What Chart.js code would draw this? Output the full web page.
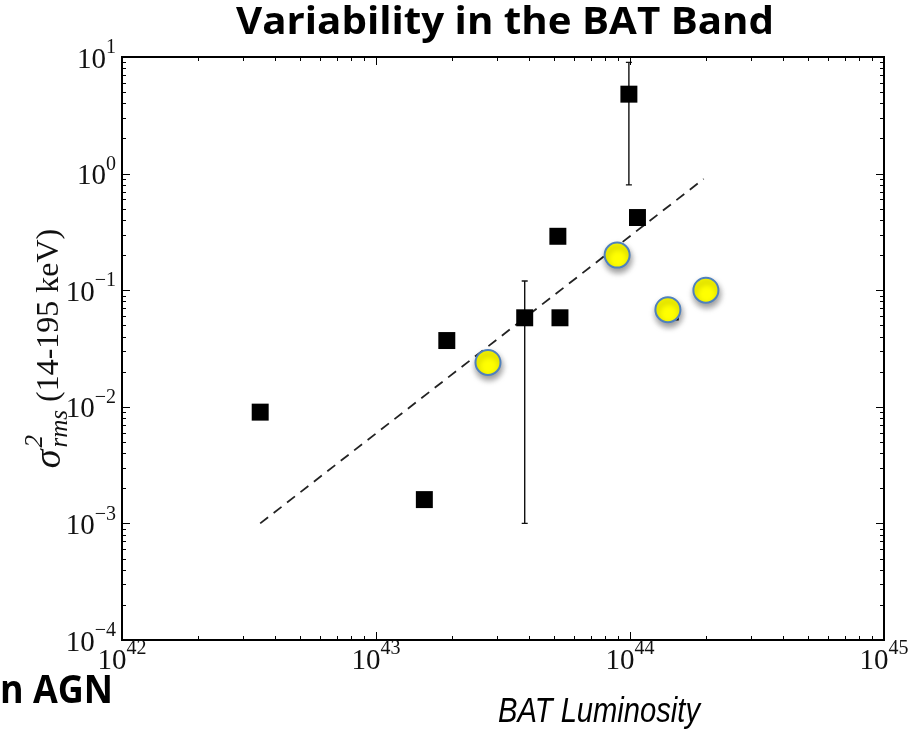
<!DOCTYPE html>
<html>
<head>
<meta charset="utf-8">
<script src="https://cdn.jsdelivr.net/npm/chart.js@4.4.0/dist/chart.umd.min.js"></script>
<style>
  body { margin: 0; background: #fff; }
  #wrap { position: relative; width: 924px; height: 738px; }
</style>
</head>
<body>
<div id="wrap"><canvas id="batChart" width="924" height="738"></canvas></div>
<script>
// BAT luminosity (erg/s) vs. excess variance, 14-195 keV
const squareLum = [3.5e42, 1.55e43, 1.9e43, 3.85e43, 5.2e43, 5.3e43, 9.9e43, 1.07e44, 1.44e44];
const squareVar = [0.009, 0.0016, 0.037, 0.058, 0.29, 0.058, 4.8, 0.42, 0.065];

// only two sources carry error bars
const errLum = [3.85e43, 9.9e43];
const errLow = [0.001, 0.8];
const errHigh = [0.12, 9.0];

const circleLum = [2.76e43, 8.9e43, 1.41e44, 1.99e44];
const circleVar = [0.024, 0.2, 0.068, 0.1];

// dashed trend line
const fitLum = [3.5e42, 1.95e44];
const fitVar = [0.001, 0.9];

const xDecades = [42, 43, 44, 45];
const yDecades = [-4, -3, -2, -1, 0, 1];

const serif = '"Liberation Serif", "DejaVu Serif", serif';

function toPoints(xs, ys) {
    return xs.map((x, i) => ({ x: x, y: ys[i] }));
}

// draws "10" with a raised exponent, anchored by align
function drawPower(ctx, exp, x, y, align) {
    const base = '10';
    const sup = exp < 0 ? '\u2212' + (-exp) : String(exp);
    ctx.font = '29px ' + serif;
    const wb = ctx.measureText(base).width;
    ctx.font = '20px ' + serif;
    const ws = ctx.measureText(sup).width;
    let left = x;
    if (align === 'right') left = x - wb - ws;
    if (align === 'center') left = x - (wb + ws) / 2;
    ctx.textAlign = 'left';
    ctx.textBaseline = 'middle';
    ctx.font = '29px ' + serif;
    ctx.fillText(base, left, y);
    ctx.font = '20px ' + serif;
    ctx.fillText(sup, left + wb, y - 12);
}

// squeeze text horizontally so it spans a given width
function drawFitted(ctx, text, font, cx, y, width, align) {
    ctx.save();
    ctx.font = font;
    const w = ctx.measureText(text).width;
    const s = width / w;
    ctx.translate(cx, y);
    ctx.scale(s, 1);
    ctx.textAlign = align;
    ctx.textBaseline = 'middle';
    ctx.fillText(text, 0, 0);
    ctx.restore();
}

const errorBars = {
    id: 'errorBars',
    beforeDatasetsDraw(chart) {
        const { ctx, scales: { x, y } } = chart;
        ctx.save();
        ctx.strokeStyle = '#111';
        ctx.lineWidth = 1.4;
        errLum.forEach((lum, i) => {
            const px = x.getPixelForValue(lum);
            const top = y.getPixelForValue(errHigh[i]);
            const bot = y.getPixelForValue(errLow[i]);
            ctx.beginPath();
            ctx.moveTo(px, top); ctx.lineTo(px, bot);
            ctx.moveTo(px - 3, top); ctx.lineTo(px + 3, top);
            ctx.moveTo(px - 3, bot); ctx.lineTo(px + 3, bot);
            ctx.stroke();
        });
        ctx.restore();
    }
};

const circleShadow = {
    id: 'circleShadow',
    beforeDatasetDraw(chart, args) {
        if (chart.data.datasets[args.index].label !== 'circles') return;
        const ctx = chart.ctx;
        ctx.save();
        ctx.shadowColor = 'rgba(0,0,0,0.4)';
        ctx.shadowBlur = 6;
        ctx.shadowOffsetX = 1;
        ctx.shadowOffsetY = 4;
    },
    afterDatasetDraw(chart, args) {
        if (chart.data.datasets[args.index].label !== 'circles') return;
        chart.ctx.restore();
    }
};

// frame, inward ticks on all sides, labels and titles
const frame = {
    id: 'frame',
    afterDraw(chart) {
        const { ctx, chartArea: a, scales: { x, y } } = chart;
        ctx.save();
        ctx.strokeStyle = '#000';
        ctx.lineWidth = 1;
        ctx.beginPath();
        for (let d = xDecades[0]; d <= xDecades[xDecades.length - 1]; d++) {
            for (let k = 1; k <= 9; k++) {
                if (d === xDecades[xDecades.length - 1] && k > 1) break;
                const px = Math.round(x.getPixelForValue(k * Math.pow(10, d))) + 0.5;
                const len = k === 1 ? 8 : 4;
                ctx.moveTo(px, a.bottom); ctx.lineTo(px, a.bottom - len);
                ctx.moveTo(px, a.top); ctx.lineTo(px, a.top + len);
            }
        }
        for (let d = yDecades[0]; d <= yDecades[yDecades.length - 1]; d++) {
            for (let k = 1; k <= 9; k++) {
                if (d === yDecades[yDecades.length - 1] && k > 1) break;
                const py = Math.round(y.getPixelForValue(k * Math.pow(10, d))) + 0.5;
                const len = k === 1 ? 8 : 4;
                ctx.moveTo(a.left, py); ctx.lineTo(a.left + len, py);
                ctx.moveTo(a.right, py); ctx.lineTo(a.right - len, py);
            }
        }
        ctx.stroke();
        ctx.lineWidth = 2;
        ctx.strokeRect(a.left, a.top, a.right - a.left, a.bottom - a.top);

        ctx.fillStyle = '#111';
        xDecades.forEach(d => {
            drawPower(ctx, d, x.getPixelForValue(Math.pow(10, d)), a.bottom + 21, 'center');
        });
        yDecades.forEach(d => {
            drawPower(ctx, d, a.left - 6, y.getPixelForValue(Math.pow(10, d)) + 3, 'right');
        });

        // y axis label: sigma^2_rms (14-195 keV)
        ctx.save();
        ctx.translate(50, (a.top + a.bottom) / 2);
        ctx.rotate(-Math.PI / 2);
        ctx.textBaseline = 'middle';
        ctx.textAlign = 'left';
        const parts = [
            { t: '\u03c3', f: 'italic 38px ' + serif, dy: 0 },
            { t: 'rms', f: 'italic 25px ' + serif, dy: 10, under: '2' },
            { t: ' (14-195 keV)', f: '32px ' + serif, dy: 0 }
        ];
        let total = 0;
        parts.forEach(p => { ctx.font = p.f; p.w = ctx.measureText(p.t).width; total += p.w + (p.under ? 2 : 0); });
        let cx = -total / 2;
        parts.forEach(p => {
            ctx.font = p.f;
            ctx.fillText(p.t, cx + (p.under ? 2 : 0), p.dy);
            if (p.under) {
                ctx.fillText(p.under, cx + 2, -15);
                cx += 2;
            }
            cx += p.w;
        });
        ctx.restore();

        ctx.fillStyle = '#000';
        drawFitted(ctx, 'Variability in the BAT Band', 'bold 37px "Open Sans", sans-serif', 505, 23, 538, 'center');
        drawFitted(ctx, 'BAT Luminosity', 'italic 35px "Liberation Sans", Arial, sans-serif', 599, 712, 202, 'center');
        drawFitted(ctx, 'n AGN', 'bold 39px "Open Sans", sans-serif', 0, 692, 113, 'left');
        ctx.restore();
    }
};

new Chart(document.getElementById('batChart'), {
    type: 'scatter',
    data: {
        datasets: [
            {
                label: 'circles',
                data: toPoints(circleLum, circleVar),
                pointStyle: 'circle',
                pointRadius: 12.5,
                backgroundColor: '#ffff00',
                borderColor: '#4f81bd',
                borderWidth: 2,
                order: 0
            },
            {
                label: 'squares',
                data: toPoints(squareLum, squareVar),
                pointStyle: 'rect',
                pointRadius: 12,
                backgroundColor: '#000',
                borderColor: '#000',
                borderWidth: 0,
                order: 1
            },
            {
                label: 'fit',
                type: 'line',
                data: toPoints(fitLum, fitVar),
                borderColor: '#222',
                borderWidth: 1.8,
                borderDash: [10, 7],
                pointRadius: 0,
                order: 2
            }
        ]
    },
    options: {
        responsive: false,
        animation: false,
        devicePixelRatio: 1,
        layout: { padding: { left: 122, right: 40, top: 57, bottom: 98 } },
        plugins: {
            legend: { display: false },
            tooltip: { enabled: false },
            title: { display: false }
        },
        scales: {
            x: {
                type: 'logarithmic',
                min: 1e42, max: 1e45,
                grid: { display: false },
                border: { display: false },
                ticks: { display: false },
                afterFit(scale) { scale.height = 0; }
            },
            y: {
                type: 'logarithmic',
                min: 1e-4, max: 10,
                grid: { display: false },
                border: { display: false },
                ticks: { display: false },
                afterFit(scale) { scale.width = 0; }
            }
        }
    },
    plugins: [errorBars, circleShadow, frame]
});
</script>
</body>
</html>
